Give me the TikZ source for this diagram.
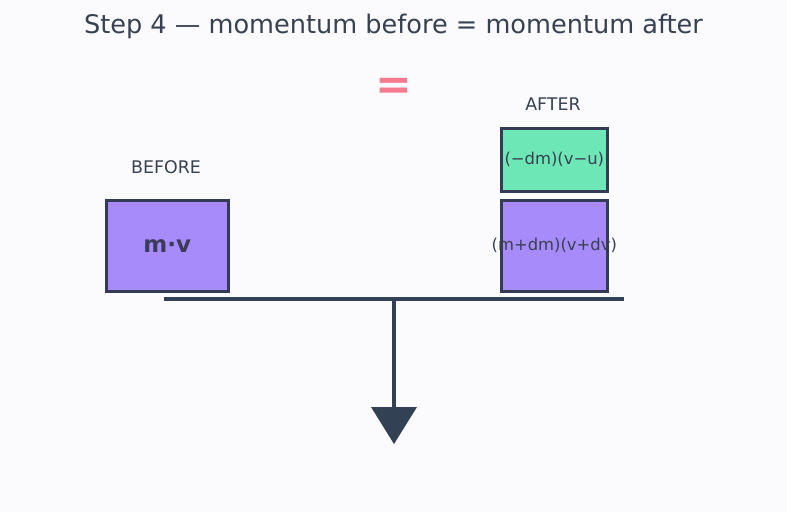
\documentclass[tikz,border=0pt]{standalone}
\usepackage{fontspec}
\setmainfont{DejaVu Sans}
\definecolor{bgc}{HTML}{FBFBFE}
\definecolor{ink}{HTML}{374151}
\definecolor{beamc}{HTML}{334155}
\definecolor{boxline}{HTML}{363B55}
\definecolor{purp}{HTML}{A78BFA}
\definecolor{mint}{HTML}{6EE7B7}
\definecolor{pinkc}{HTML}{F47A8E}
\definecolor{txtdark}{HTML}{3B3B5C}
\tikzset{
  blk/.style={draw=boxline, line width=2.6pt, inner sep=0pt, anchor=north west},
  lbl/.style={text=ink, font=\fontsize{17.4}{20}\selectfont},
  beamline/.style={draw=beamc, line width=4pt}
}
\begin{document}
\begin{tikzpicture}[x=1pt,y=-1pt]
\fill[bgc] (0,0) rectangle (787,512);
\useasboundingbox (0,0) rectangle (787,512);
\node[text=ink, font=\fontsize{25.6}{30}\selectfont] (title) at (393.5,26.5) {Step 4 — momentum before = momentum after};
\node[text=pinkc, font=\fontsize{44}{48}\selectfont\bfseries] (eq) at (393.5,89) {=};
\node[lbl] (before) at (166,167) {BEFORE};
\node[lbl] (after) at (553,104) {AFTER};
\node[blk, fill=purp, minimum width=122pt, minimum height=91pt] (mv) at (105,199) {};
\node[text=txtdark, font=\fontsize{23}{26}\selectfont\bfseries] (mvt) at (mv.center) {m·v};
\node[blk, fill=mint, minimum width=106pt, minimum height=63pt] (dm) at (500,127) {};
\node[text=ink, font=\fontsize{16.4}{19}\selectfont] (dmt) at (dm.center) {(−dm)(v−u)};
\node[blk, fill=purp, minimum width=106pt, minimum height=91pt] (mdm) at (500,199) {};
\node[text=ink, font=\fontsize{16.4}{19}\selectfont] (mdmt) at (mdm.center) {(m+dm)(v+dv)};
\coordinate (bl) at (164,298.5);
\coordinate (br) at (624,298.5);
\coordinate (piv) at (394,298.5);
\coordinate (stem) at (394,408);
\coordinate (tl) at (371,407);
\coordinate (tr) at (417,407);
\coordinate (tip) at (394,444);
\draw[beamline] (bl) -- (br);
\draw[beamline] (piv) -- (stem);
\fill[beamc] (tl) -- (tr) -- (tip) -- cycle;
\end{tikzpicture}
\end{document}
